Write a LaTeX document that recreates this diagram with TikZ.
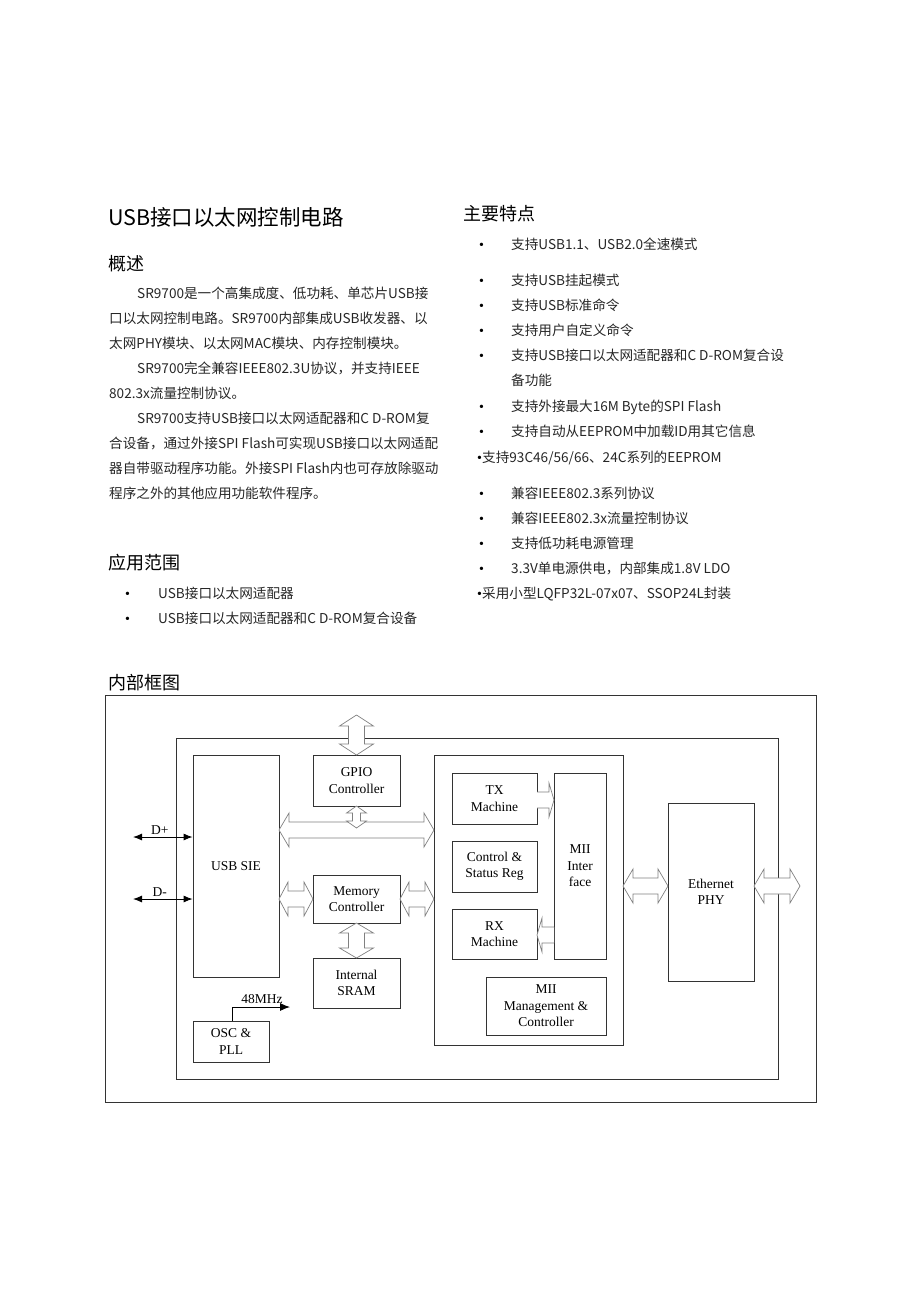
\documentclass[tikz,border=0pt]{standalone}
\usepackage{fontspec}
\usetikzlibrary{arrows.meta}
\setmainfont{Liberation Serif}
\newfontfamily\cjk{Noto Sans CJK SC}
\newcommand\harrow[6]{\draw[hol] (#1,#3) -- ({#1+#6},{#3-#5}) -- ({#1+#6},{#3-#4}) -- ({#2-#6},{#3-#4}) -- ({#2-#6},{#3-#5}) -- (#2,#3) -- ({#2-#6},{#3+#5}) -- ({#2-#6},{#3+#4}) -- ({#1+#6},{#3+#4}) -- ({#1+#6},{#3+#5}) -- cycle;}
\newcommand\varrow[6]{\draw[hol] (#3,#1) -- ({#3-#5},{#1+#6}) -- ({#3-#4},{#1+#6}) -- ({#3-#4},{#2-#6}) -- ({#3-#5},{#2-#6}) -- (#3,#2) -- ({#3+#5},{#2-#6}) -- ({#3+#4},{#2-#6}) -- ({#3+#4},{#1+#6}) -- ({#3+#5},{#1+#6}) -- cycle;}
\begin{document}
\begin{tikzpicture}[x=1pt,y=-1pt,
  blk/.style={draw=black!80,line width=0.8pt,align=center,font=\fontsize{13.5}{16.5}\selectfont},
  hol/.style={draw=black!50,fill=white,line width=0.7pt},
  tx/.style={anchor=base west,inner sep=0pt,font=\cjk\fontsize{13.6}{15}\selectfont,text=black!85},
  bul/.style={anchor=base west,inner sep=0pt,font=\fontsize{14}{15}\selectfont},
  hd/.style={anchor=base west,inner sep=0pt,font=\cjk\fontsize{18}{20}\selectfont}]
\useasboundingbox (0,0) rectangle (920,1302);
% texts
\node[anchor=base west,inner sep=0pt,font=\cjk\fontsize{21.5}{24}\selectfont] (title) at (108,225) {USB接口以太网控制电路};
\node[hd] (h1) at (108,270) {概述};
\node[tx] (p1) at (137,298) {SR9700是一个高集成度、低功耗、单芯片USB接};
\node[tx] (p2) at (109,323) {口以太网控制电路。SR9700内部集成USB收发器、以};
\node[tx] (p3) at (109,348) {太网PHY模块、以太网MAC模块、内存控制模块。};
\node[tx] (p4) at (137,373) {SR9700完全兼容IEEE802.3U协议，并支持IEEE};
\node[tx] (p5) at (109,398) {802.3x流量控制协议。};
\node[tx] (p6) at (137,423) {SR9700支持USB接口以太网适配器和C D-ROM复};
\node[tx] (p7) at (109,448) {合设备，通过外接SPI Flash可实现USB接口以太网适配};
\node[tx] (p8) at (109,473) {器自带驱动程序功能。外接SPI Flash内也可存放除驱动};
\node[tx] (p9) at (109,498) {程序之外的其他应用功能软件程序。};
\node[hd] (h2) at (108,569) {应用范围};
\node[bul] (a1b) at (125,598) {•};
\node[tx] (a1) at (158,598) {USB接口以太网适配器};
\node[bul] (a2b) at (125,623) {•};
\node[tx] (a2) at (158,623) {USB接口以太网适配器和C D-ROM复合设备};
\node[hd] (h3) at (463,220) {主要特点};
\foreach \y/\t [count=\i] in {249/支持USB1.1、USB2.0全速模式,285/支持USB挂起模式,310/支持USB标准命令,335/支持用户自定义命令,360/支持USB接口以太网适配器和C D-ROM复合设,411/支持外接最大16M Byte的SPI Flash,436/支持自动从EEPROM中加载ID用其它信息,498/兼容IEEE802.3系列协议,523/兼容IEEE802.3x流量控制协议,548/支持低功耗电源管理,573/3.3V单电源供电，内部集成1.8V LDO}{
  \node[bul] (fb\i) at (479,\y) {•};
  \node[tx] (f\i) at (511,\y) {\t};}
\node[tx] (f5b) at (511,385) {备功能};
\node[bul] (g1b) at (477,462) {•};
\node[tx] (g1) at (482,462) {支持93C46/56/66、24C系列的EEPROM};
\node[bul] (g2b) at (477,598) {•};
\node[tx] (g2) at (482,598) {采用小型LQFP32L-07x07、SSOP24L封装};
\node[hd] (h4) at (108,689) {内部框图};
% frames
\draw[black!80,line width=0.8pt] (105,695) rectangle (816,1102);
\draw[black!80,line width=0.8pt] (176,738) rectangle (778,1079);
\draw[black!80,line width=0.8pt] (434,755) rectangle (623,1045);
% blocks
\node[blk,minimum width=86pt,minimum height=222pt] (sie) at (236,866) {USB SIE};
\node[blk,minimum width=87pt,minimum height=51pt] (gpio) at (356.5,780.5) {GPIO\\Controller};
\node[blk,minimum width=87pt,minimum height=48pt] (mem) at (356.5,899) {Memory\\Controller};
\node[blk,minimum width=87pt,minimum height=50pt] (sram) at (356.5,983) {Internal\\SRAM};
\node[blk,minimum width=76pt,minimum height=41pt] (osc) at (231,1041.5) {OSC \&\\PLL};
\node[blk,minimum width=85pt,minimum height=51pt] (txm) at (494.5,798.5) {TX\\Machine};
\node[blk,minimum width=85pt,minimum height=51pt] (csr) at (494.5,866.5) {Control \&\\Status Reg};
\node[blk,minimum width=85pt,minimum height=50pt] (rxm) at (494.5,934) {RX\\Machine};
\node[blk,minimum width=52pt,minimum height=186pt] (mii) at (580,866) {MII\\Inter\\face};
\node[blk,minimum width=120pt,minimum height=58pt] (mgmt) at (546,1006) {MII\\Management \&\\Controller};
\node[blk,minimum width=86pt,minimum height=178pt] (phy) at (711,892) {Ethernet\\PHY};
% D+ / D-
\coordinate (dp) at (133,837);
\coordinate (dm) at (133,899);
\tikzset{tip/.style={{Latex[length=9pt,width=7pt]}-{Latex[length=9pt,width=7pt]},line width=0.9pt}}
\draw[tip] (dp) -- (sie.west |- dp) node[pos=0.45,above=-1pt,font=\fontsize{13.5}{16}\selectfont] (dpl) {D+};
\draw[tip] (dm) -- (sie.west |- dm) node[pos=0.45,above=-1pt,font=\fontsize{13.5}{16}\selectfont] (dml) {D-};
% hollow arrows
\harrow{279}{434}{830}{8}{17}{10}
\varrow{715}{755}{356.5}{8}{17}{11}
\varrow{806}{828}{356.5}{4}{10}{7}
\harrow{279}{313}{899}{8}{17}{9}
\harrow{400}{434}{899}{8}{17}{9}
\varrow{923}{958}{356.5}{8}{17}{10}
\harrow{623}{668}{886}{8}{17}{10}
\harrow{754}{800}{886}{8}{17}{10}
% single hollow arrows TX->MII, MII->RX
\draw[hol] (537,792) -- (549,792) -- (549,783) -- (554,800) -- (549,817) -- (549,808) -- (537,808);
\draw[hol] (554,927) -- (542,927) -- (542,918) -- (537,935) -- (542,952) -- (542,943) -- (554,943);
% 48MHz
\coordinate (clk) at (290,1007);
\draw[-{Latex[length=10pt,width=8pt]},line width=0.9pt] (osc.north -| 232,0) -- (232,1007) -- (clk);
\node[font=\fontsize{13.5}{16}\selectfont,anchor=base] (mhz) at (262,1003) {48MHz};
\end{tikzpicture}
\end{document}
